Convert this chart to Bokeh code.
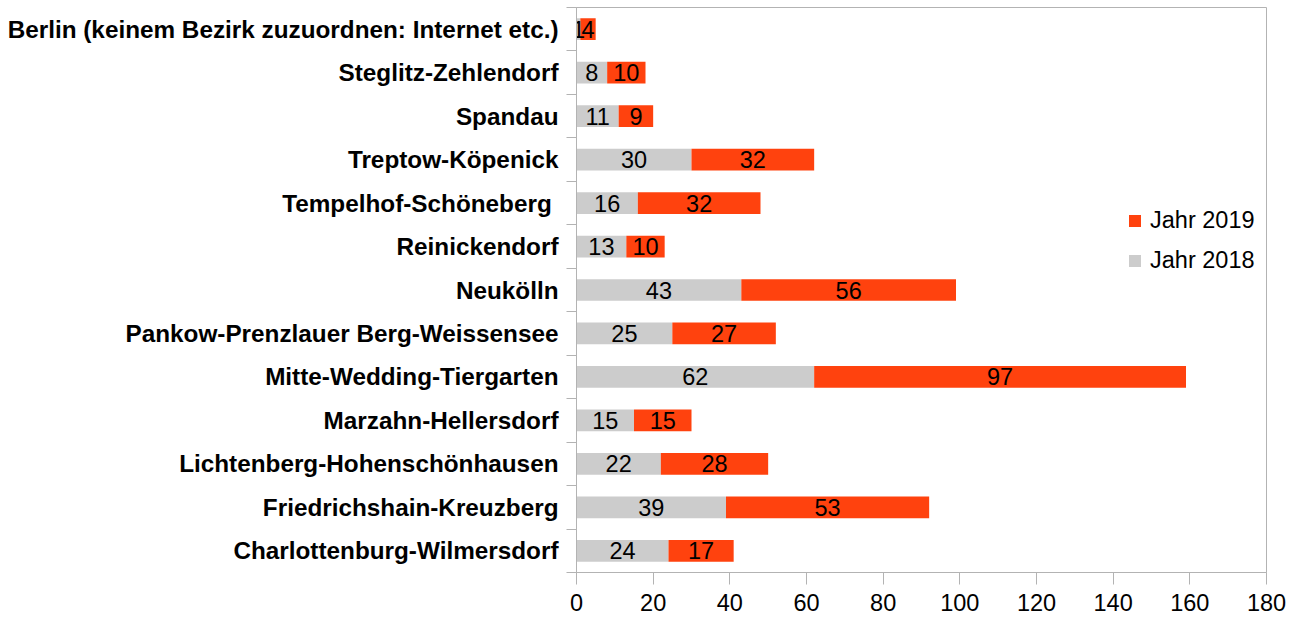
from bokeh.plotting import figure
from bokeh.models import (ColumnDataSource, Range1d, FixedTicker, Legend, LegendItem)
from bokeh.core.properties import value
from bokeh.embed import file_html
from bokeh.resources import INLINE

districts = [
    "Charlottenburg-Wilmersdorf",
    "Friedrichshain-Kreuzberg",
    "Lichtenberg-Hohenschönhausen",
    "Marzahn-Hellersdorf",
    "Mitte-Wedding-Tiergarten",
    "Pankow-Prenzlauer Berg-Weissensee",
    "Neukölln",
    "Reinickendorf",
    "Tempelhof-Schöneberg\u00a0",
    "Treptow-Köpenick",
    "Spandau",
    "Steglitz-Zehlendorf",
    "Berlin (keinem Bezirk zuzuordnen: Internet etc.)",
]
jahr_2018 = [24, 39, 22, 15, 62, 25, 43, 13, 16, 30, 11, 8, 1]
jahr_2019 = [17, 53, 28, 15, 97, 27, 56, 10, 32, 32, 9, 10, 4]
x_ticks = [0, 20, 40, 60, 80, 100, 120, 140, 160, 180]

GRAY = "#cccccc"
RED = "#ff420e"
AXIS = "#b3b3b3"
FONT = "Liberation Sans"
FS = "23.5px"

ypos = list(range(len(districts)))
end_2019 = [a + b for a, b in zip(jahr_2018, jahr_2019)]
src = ColumnDataSource(dict(
    y=ypos,
    a=jahr_2018,
    b=jahr_2019,
    zero=[0] * len(ypos),
    tot=end_2019,
    mid_a=[a / 2 for a in jahr_2018],
    mid_b=[a + b / 2 for a, b in zip(jahr_2018, jahr_2019)],
    la=[str(v) for v in jahr_2018],
    lb=[str(v) for v in jahr_2019],
))

p = figure(width=1288, height=618, output_backend="svg", toolbar_location=None,
           x_range=Range1d(0, 180), y_range=Range1d(-0.5, len(districts) - 0.5),
           min_border_top=7, min_border_right=22, min_border_left=576,
           min_border_bottom=46)

r18 = p.hbar(y="y", left="zero", right="a", height=0.5, source=src,
             fill_color=GRAY, line_color=None)
r19 = p.hbar(y="y", left="a", right="tot", height=0.5, source=src,
             fill_color=RED, line_color=None)

p.text(x="mid_a", y="y", text="la", source=src, text_align="center",
       text_baseline="middle", text_font=value(FONT), text_font_size=FS,
       text_color="black")
p.text(x="mid_b", y="y", text="lb", source=src, text_align="center",
       text_baseline="middle", text_font=value(FONT), text_font_size=FS,
       text_color="black")

p.xgrid.visible = False
p.ygrid.visible = False
p.outline_line_color = AXIS
p.outline_line_alpha = 1.0
p.background_fill_color = "white"
p.border_fill_color = "white"

xa = p.xaxis[0]
xa.ticker = FixedTicker(ticks=x_ticks)
xa.axis_line_color = AXIS
xa.major_tick_line_color = AXIS
xa.major_tick_in = 0
xa.major_tick_out = 12
xa.minor_tick_line_color = None
xa.major_label_text_font = FONT
xa.major_label_text_font_size = FS
xa.major_label_text_color = "black"
xa.major_label_standoff = 9

ya = p.yaxis[0]
ya.ticker = FixedTicker(ticks=ypos, minor_ticks=[i - 0.5 for i in range(len(districts) + 1)])
ya.major_label_overrides = {i: d for i, d in enumerate(districts)}
ya.axis_line_color = AXIS
ya.major_tick_line_color = None
ya.major_tick_in = 0
ya.major_tick_out = 0
ya.minor_tick_line_color = AXIS
ya.minor_tick_in = 0
ya.minor_tick_out = 10
ya.major_label_text_font = FONT
ya.major_label_text_font_style = "bold"
ya.major_label_text_font_size = "24.3px"
ya.major_label_text_color = "black"
ya.major_label_standoff = 8

legend = Legend(items=[LegendItem(label="Jahr 2019", renderers=[r19]),
                       LegendItem(label="Jahr 2018", renderers=[r18])],
                location=(551, 298), orientation="vertical")
legend.border_line_color = None
legend.background_fill_alpha = 0
legend.padding = 0
legend.margin = 0
legend.glyph_width = 15
legend.glyph_height = 15
legend.label_height = 20
legend.spacing = 13
legend.label_standoff = 8
legend.label_text_font = FONT
legend.label_text_font_size = FS
legend.label_text_color = "black"
p.add_layout(legend)

open("out.html", "w").write(file_html(p, INLINE))
